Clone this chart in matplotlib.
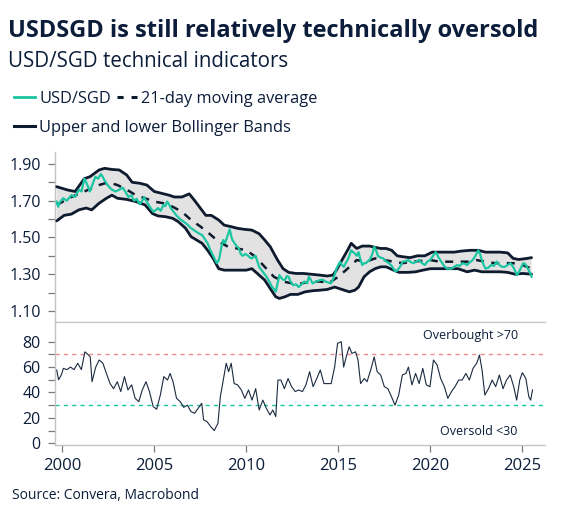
import numpy as np
import matplotlib
matplotlib.use("Agg")
import matplotlib.pyplot as plt
from matplotlib.lines import Line2D

# ---- data ----
usd_t = [1999.70, 1999.78, 1999.86, 2000.05, 2000.25, 2000.5, 2000.7, 2000.9, 2001.05, 2001.2,
         2001.3, 2001.4, 2001.5, 2001.65, 2001.8, 2001.95, 2002.1, 2002.2, 2002.3, 2002.5,
         2002.7, 2002.9, 2003.1, 2003.3, 2003.45, 2003.6, 2003.75, 2003.9, 2004.05, 2004.2,
         2004.35, 2004.45, 2004.55, 2004.65, 2004.8, 2004.95, 2005.1, 2005.2, 2005.35, 2005.5,
         2005.6, 2005.7, 2005.8, 2005.9, 2006.05, 2006.2, 2006.4, 2006.6, 2006.8, 2007.0,
         2007.15, 2007.3, 2007.45, 2007.6, 2007.75, 2007.9, 2008.05, 2008.2, 2008.3, 2008.4,
         2008.5, 2008.55, 2008.65, 2008.75, 2008.85, 2008.95, 2009.1, 2009.2, 2009.25, 2009.35,
         2009.5, 2009.6, 2009.7, 2009.8, 2009.95, 2010.1, 2010.2, 2010.3, 2010.4, 2010.5,
         2010.6, 2010.7, 2010.85, 2011.0, 2011.1, 2011.25, 2011.4, 2011.5, 2011.6, 2011.7,
         2011.8, 2011.9, 2012.0, 2012.1, 2012.2, 2012.3, 2012.4, 2012.55, 2012.7, 2012.85,
         2013.0, 2013.15, 2013.3, 2013.4, 2013.5, 2013.6, 2013.8, 2014.0, 2014.15, 2014.3,
         2014.45, 2014.6, 2014.75, 2014.9, 2015.0, 2015.1, 2015.2, 2015.3, 2015.4, 2015.5,
         2015.6, 2015.7, 2015.8, 2015.9, 2016.0, 2016.1, 2016.2, 2016.3, 2016.4, 2016.5,
         2016.6, 2016.7, 2016.85, 2016.95, 2017.05, 2017.15, 2017.3, 2017.45, 2017.6, 2017.75,
         2017.9, 2018.0, 2018.1, 2018.2, 2018.35, 2018.5, 2018.65, 2018.8, 2018.95, 2019.1,
         2019.25, 2019.4, 2019.55, 2019.7, 2019.85, 2020.0, 2020.15, 2020.3, 2020.45, 2020.6,
         2020.75, 2020.9, 2021.05, 2021.15, 2021.3, 2021.45, 2021.6, 2021.75, 2021.9, 2022.0,
         2022.15, 2022.3, 2022.45, 2022.6, 2022.7, 2022.8, 2022.9, 2023.0, 2023.15, 2023.3,
         2023.45, 2023.6, 2023.75, 2023.9, 2024.05, 2024.2, 2024.35, 2024.5, 2024.6, 2024.7,
         2024.8, 2024.9, 2025.05, 2025.15, 2025.25, 2025.35, 2025.45, 2025.5]
usd_v = [1.695, 1.667, 1.69, 1.713, 1.70, 1.73, 1.72, 1.76, 1.75, 1.82,
         1.80, 1.777, 1.75, 1.79, 1.83, 1.82, 1.845, 1.83, 1.81, 1.78,
         1.76, 1.75, 1.76, 1.77, 1.745, 1.72, 1.73, 1.70, 1.71, 1.68,
         1.70, 1.72, 1.70, 1.686, 1.66, 1.64, 1.65, 1.66, 1.645, 1.677,
         1.67, 1.695, 1.68, 1.66, 1.64, 1.62, 1.60, 1.586, 1.57, 1.55,
         1.54, 1.53, 1.52, 1.513, 1.49, 1.468, 1.43, 1.40, 1.38, 1.36,
         1.375, 1.395, 1.45, 1.486, 1.47, 1.50, 1.544, 1.50, 1.486, 1.47,
         1.45, 1.44, 1.41, 1.40, 1.41, 1.40, 1.39, 1.386, 1.395, 1.40,
         1.37, 1.34, 1.32, 1.30, 1.286, 1.26, 1.23, 1.22, 1.205, 1.25,
         1.295, 1.28, 1.27, 1.268, 1.29, 1.286, 1.26, 1.24, 1.245, 1.23,
         1.245, 1.26, 1.25, 1.286, 1.27, 1.25, 1.26, 1.268, 1.27, 1.26,
         1.255, 1.25, 1.28, 1.33, 1.35, 1.368, 1.35, 1.34, 1.36, 1.377,
         1.40, 1.43, 1.42, 1.413, 1.40, 1.42, 1.38, 1.35, 1.36, 1.36,
         1.37, 1.377, 1.41, 1.45, 1.43, 1.40, 1.39, 1.386, 1.37, 1.36,
         1.345, 1.33, 1.315, 1.32, 1.34, 1.368, 1.37, 1.377, 1.365, 1.36,
         1.37, 1.377, 1.36, 1.35, 1.37, 1.377, 1.40, 1.42, 1.39, 1.368,
         1.345, 1.33, 1.33, 1.33, 1.34, 1.35, 1.345, 1.36, 1.355, 1.35,
         1.365, 1.377, 1.40, 1.43, 1.41, 1.377, 1.35, 1.33, 1.335, 1.35,
         1.345, 1.368, 1.35, 1.34, 1.34, 1.35, 1.36, 1.34, 1.32, 1.295,
         1.31, 1.33, 1.36, 1.355, 1.34, 1.32, 1.30, 1.286]

ma_t = [1999.7, 2000.5, 2001.2, 2002.0, 2002.5, 2003.0, 2003.5, 2004.0, 2004.5, 2005.0,
        2005.5, 2006.0, 2006.5, 2007.0, 2007.5, 2008.0, 2008.5, 2009.0, 2009.5, 2010.0,
        2010.5, 2011.0, 2011.5, 2012.0, 2012.5, 2013.0, 2013.5, 2014.0, 2014.5, 2015.0,
        2015.5, 2016.0, 2016.5, 2017.0, 2017.5, 2018.0, 2018.5, 2019.0, 2020.0, 2020.5,
        2021.0, 2022.0, 2022.5, 2023.0, 2023.5, 2024.0, 2024.5, 2025.0, 2025.5]
ma_v = [1.677, 1.72, 1.75, 1.785, 1.80, 1.785, 1.76, 1.73, 1.713, 1.695,
        1.686, 1.667, 1.64, 1.595, 1.56, 1.52, 1.477, 1.45, 1.44, 1.43,
        1.395, 1.34, 1.286, 1.26, 1.25, 1.25, 1.26, 1.26, 1.253, 1.286,
        1.33, 1.377, 1.368, 1.386, 1.377, 1.368, 1.36, 1.368, 1.377, 1.368,
        1.368, 1.368, 1.377, 1.368, 1.36, 1.36, 1.36, 1.35, 1.33]

up_t = [1999.7, 2000.3, 2000.7, 2001.2, 2001.5, 2002.0, 2002.3, 2002.7, 2003.1, 2003.5,
        2003.8, 2004.2, 2004.6, 2005.0, 2005.4, 2005.8, 2006.1, 2006.5, 2006.9, 2007.2,
        2007.5, 2007.8, 2008.1, 2008.5, 2008.8, 2009.2, 2009.5, 2009.9, 2010.3, 2010.7,
        2011.0, 2011.3, 2011.5, 2011.7, 2012.0, 2012.3, 2012.7, 2013.1, 2013.5, 2014.0,
        2014.4, 2014.7, 2014.9, 2015.2, 2015.5, 2015.7, 2016.0, 2016.3, 2016.7, 2017.0,
        2017.3, 2017.6, 2017.9, 2018.2, 2018.5, 2018.9, 2019.3, 2019.7, 2020.1, 2020.5,
        2020.9, 2021.3, 2021.7, 2022.2, 2022.6, 2023.0, 2023.4, 2023.8, 2024.2, 2024.5,
        2024.8, 2025.2, 2025.5]
up_v = [1.776, 1.758, 1.75, 1.82, 1.83, 1.867, 1.876, 1.87, 1.867, 1.84,
        1.80, 1.795, 1.785, 1.75, 1.74, 1.73, 1.72, 1.72, 1.737, 1.70,
        1.66, 1.62, 1.62, 1.595, 1.567, 1.558, 1.55, 1.544, 1.54, 1.52,
        1.486, 1.45, 1.413, 1.377, 1.33, 1.31, 1.304, 1.304, 1.30, 1.295,
        1.29, 1.295, 1.322, 1.377, 1.43, 1.468, 1.44, 1.453, 1.453, 1.446,
        1.44, 1.44, 1.43, 1.40, 1.395, 1.39, 1.40, 1.40, 1.42, 1.42,
        1.42, 1.42, 1.426, 1.43, 1.43, 1.42, 1.42, 1.42, 1.416, 1.386,
        1.38, 1.385, 1.39]

lo_t = [1999.7, 2000.1, 2000.5, 2000.9, 2001.3, 2001.6, 2002.0, 2002.4, 2002.7, 2003.0,
        2003.5, 2004.0, 2004.5, 2004.9, 2005.2, 2005.6, 2006.0, 2006.3, 2006.7, 2007.0,
        2007.3, 2007.6, 2007.9, 2008.2, 2008.5, 2008.8, 2009.2, 2009.6, 2010.0, 2010.3,
        2010.6, 2011.0, 2011.3, 2011.6, 2011.8, 2012.1, 2012.4, 2012.8, 2013.2, 2013.6,
        2014.0, 2014.4, 2014.8, 2015.2, 2015.6, 2015.9, 2016.1, 2016.4, 2016.7, 2017.0,
        2017.3, 2017.6, 2018.0, 2018.3, 2018.8, 2019.2, 2019.6, 2020.0, 2020.5, 2021.0,
        2021.5, 2022.0, 2022.4, 2022.8, 2023.3, 2023.8, 2024.2, 2024.6, 2025.0, 2025.5]
lo_v = [1.59, 1.62, 1.627, 1.65, 1.66, 1.65, 1.686, 1.713, 1.73, 1.713,
        1.707, 1.695, 1.677, 1.63, 1.617, 1.613, 1.604, 1.586, 1.55, 1.504,
        1.486, 1.468, 1.43, 1.386, 1.33, 1.322, 1.322, 1.322, 1.322, 1.33,
        1.304, 1.268, 1.222, 1.177, 1.168, 1.177, 1.19, 1.19, 1.204, 1.21,
        1.213, 1.217, 1.23, 1.217, 1.204, 1.213, 1.23, 1.286, 1.313, 1.33,
        1.34, 1.34, 1.322, 1.31, 1.31, 1.313, 1.322, 1.33, 1.33, 1.33,
        1.33, 1.313, 1.322, 1.313, 1.313, 1.313, 1.31, 1.30, 1.304, 1.30]

rsi_t = [1999.70, 1999.80, 1999.96, 2000.06, 2000.25, 2000.45, 2000.64, 2000.84, 2001.04, 2001.23,
         2001.43, 2001.52, 2001.62, 2001.82, 2002.01, 2002.21, 2002.40, 2002.60, 2002.79, 2002.99,
         2003.18, 2003.38, 2003.57, 2003.77, 2003.96, 2004.16, 2004.35, 2004.55, 2004.74, 2004.94,
         2005.13, 2005.33, 2005.52, 2005.72, 2005.86, 2006.02, 2006.21, 2006.41, 2006.60, 2006.80,
         2006.99, 2007.19, 2007.38, 2007.58, 2007.68, 2007.87, 2008.07, 2008.26, 2008.46, 2008.59,
         2008.75, 2008.91, 2009.04, 2009.18, 2009.34, 2009.53, 2009.73, 2009.92, 2010.12, 2010.31,
         2010.51, 2010.70, 2010.90, 2011.09, 2011.29, 2011.44, 2011.60, 2011.72, 2011.88, 2012.07,
         2012.27, 2012.46, 2012.66, 2012.85, 2013.05, 2013.24, 2013.44, 2013.63, 2013.83, 2014.02,
         2014.22, 2014.41, 2014.61, 2014.80, 2014.96, 2015.16, 2015.29, 2015.43, 2015.59, 2015.74,
         2015.94, 2016.07, 2016.21, 2016.41, 2016.56, 2016.76, 2016.95, 2017.11, 2017.30, 2017.50,
         2017.69, 2017.89, 2018.08, 2018.28, 2018.48, 2018.67, 2018.81, 2019.00, 2019.20, 2019.39,
         2019.59, 2019.78, 2019.98, 2020.17, 2020.37, 2020.56, 2020.76, 2020.95, 2021.15, 2021.34,
         2021.54, 2021.73, 2021.93, 2022.12, 2022.32, 2022.52, 2022.67, 2022.81, 2022.96, 2023.16,
         2023.36, 2023.55, 2023.75, 2023.95, 2024.14, 2024.34, 2024.53, 2024.69, 2024.86, 2025.00,
         2025.19, 2025.35, 2025.45, 2025.55]
rsi_v = [57.7, 50, 54, 59, 58, 60, 58, 63, 58, 72,
         69.5, 68, 48.5, 60, 65.6, 63, 55, 47, 43, 48.5,
         40.7, 52.5, 42, 46, 35.4, 32.8, 42, 48.5, 40.7, 28.9,
         26.8, 38, 52.5, 49.8, 55, 48.5, 35.4, 32.8, 28.3, 30,
         25, 23.6, 27.5, 31.5, 18.4, 17, 13, 10, 15.7, 36.7,
         49.8, 63, 56.4, 63, 47, 46, 42, 35.4, 42, 34,
         43, 26.2, 34, 27.5, 22.3, 26.2, 21, 49.8, 49.8, 43,
         51, 44.6, 40.7, 42, 40.7, 46, 56.4, 44.6, 51, 57.7,
         47, 47, 47, 60, 78.7, 80, 60, 68, 76, 70.8,
         72, 65.6, 47, 51, 48.5, 57.7, 68, 56.4, 53.8, 44.6,
         43, 36.7, 30, 38, 53.8, 55, 60, 46, 55, 47,
         59, 46, 44.6, 65.6, 61.6, 51, 44.6, 35.4, 40.7, 44.6,
         49.8, 49.8, 55, 49.8, 59, 63, 69.5, 57.7, 38, 43,
         49.8, 44.6, 53.8, 43, 49.8, 53.8, 44.6, 34, 49.8, 55.6,
         51, 36.7, 34, 42]

overbought = 70
oversold = 30
year_ticks = [2000, 2005, 2010, 2015, 2020, 2025]

# ---- style ----
navy = "#0b1d3a"
teal = "#1cc5a2"
band = "#0e1a2e"
plt.rcParams["font.family"] = ["Open Sans", "DejaVu Sans"]

fig = plt.figure(figsize=(5.66, 5.21), dpi=100)
ax1 = fig.add_axes([0.0963, 0.382, 0.8666, 0.3263])
ax2 = fig.add_axes([0.0963, 0.1468, 0.8666, 0.2351], sharex=ax1)

# top panel: price with bands
poly_x = np.concatenate([up_t, lo_t[::-1]])
poly_y = np.concatenate([up_v, lo_v[::-1]])
ax1.fill(poly_x, poly_y, facecolor="#e2e2e2", edgecolor="none", zorder=1)
ax1.plot(up_t, up_v, color=band, lw=2.0, zorder=3, solid_capstyle="round")
ax1.plot(lo_t, lo_v, color=band, lw=2.0, zorder=3, solid_capstyle="round")
ax1.plot(ma_t, ma_v, color=band, lw=1.8, ls=(0, (3.2, 3.0)), zorder=3)
ax1.plot(usd_t, usd_v, color=teal, lw=1.6, zorder=4)

ax1.set_ylim(1.04, 1.965)
ax1.set_yticks([1.10, 1.30, 1.50, 1.70, 1.90])
ax1.set_yticks(np.arange(1.2, 1.9, 0.2), minor=True)
ax1.set_yticklabels(["1.10", "1.30", "1.50", "1.70", "1.90"])

# bottom panel: RSI
ax2.axhline(overbought, color="#f08a8a", lw=1.0, ls=(0, (3, 3)), zorder=1)
ax2.axhline(oversold, color="#1cc5a2", lw=1.0, ls=(0, (3, 3)), zorder=1)
ax2.plot(rsi_t, rsi_v, color="#1b2a40", lw=0.8, zorder=3)
ax2.set_ylim(-1, 95.5)
ax2.set_yticks([0, 20, 40, 60, 80])
ax2.set_yticks([10, 30, 50, 70], minor=True)
ax2.text(2024.75, 85, "Overbought >70", ha="right", va="center", fontsize=9, color=navy)
ax2.text(2024.75, 9.5, "Oversold <30", ha="right", va="center", fontsize=9, color=navy)

ax2.set_xlim(1999.58, 2026.23)
ax2.set_xticks(year_ticks)
ax2.set_xticklabels([str(y) for y in year_ticks])

for ax in (ax1, ax2):
    for s in ("top", "right"):
        ax.spines[s].set_visible(False)
    for s in ("left", "bottom"):
        ax.spines[s].set_color("#c4c4c4")
        ax.spines[s].set_linestyle((0, (1, 1)))
        ax.spines[s].set_linewidth(1.0)
    ax.tick_params(axis="y", which="both", length=5, width=0.9, color="#7a7a7a",
                   labelsize=11.5, labelcolor=navy, pad=5)
ax2.spines["top"].set_visible(True)
ax2.spines["top"].set_color("#c4c4c4")
ax2.spines["top"].set_linestyle((0, (1, 1)))
ax1.tick_params(axis="x", which="both", bottom=False, labelbottom=False)
ax2.tick_params(axis="x", length=5, width=0.9, color="#7a7a7a", labelsize=12,
                labelcolor=navy, pad=5)

# titles
fig.text(0.014, 0.929, "USDSGD is still relatively technically oversold", fontsize=17,
         fontweight="bold", color=navy, va="baseline")
fig.text(0.014, 0.872, "USD/SGD technical indicators", fontsize=14.8, color=navy, va="baseline")
fig.text(0.022, 0.042, "Source: Convera, Macrobond", fontsize=10, color=navy, va="baseline")

# legends
h_usd = Line2D([], [], color=teal, lw=2.0)
h_ma = Line2D([], [], color=band, lw=2.2, ls=(0, (2.0, 2.6)))
h_bb = Line2D([], [], color=band, lw=2.2)
leg1 = fig.legend([h_usd, h_ma], ["USD/SGD", "21-day moving average"], ncol=2,
                  loc="center left", bbox_to_anchor=(0.014, 0.81), frameon=False,
                  fontsize=11.8, handlelength=1.25, handletextpad=0.25, columnspacing=0.35,
                  borderaxespad=0, labelcolor=navy)
leg2 = fig.legend([h_bb], ["Upper and lower Bollinger Bands"], loc="center left",
                  bbox_to_anchor=(0.014, 0.754), frameon=False, fontsize=11.8,
                  handlelength=1.25, handletextpad=0.25, borderaxespad=0, labelcolor=navy)

fig.savefig("out.png", dpi=100)
